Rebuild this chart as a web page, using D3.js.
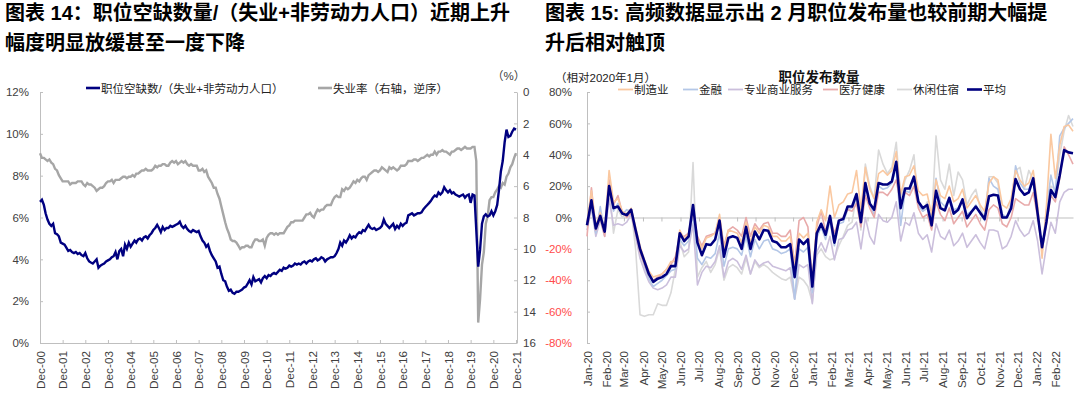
<!DOCTYPE html>
<html>
<head>
<meta charset="utf-8">
<script src="https://cdn.jsdelivr.net/npm/d3@7"></script>
<style>
  body { margin: 0; background: #fff; }
  svg text { font-family: "Liberation Sans", "Noto Sans CJK SC", sans-serif; }
</style>
</head>
<body>
<svg id="chart" width="1080" height="398"></svg>
<script>
// ---------- 图表14: monthly, Dec-2000 .. Dec-2021 ----------
const vacancyStart = new Date(2000, 11, 1);
const vacancyEnd = new Date(2021, 11, 1);

// job openings / (unemployed + not in labour force), %
const vacancyRatio = [
  6.75,
  6.85, 6.6, 6.2, 5.9, 5.7, 5.6, 5.7, 5.25, 5.2, 5.1, 4.8, 4.75,
  4.7, 4.55, 4.4, 4.45, 4.35, 4.3, 4.35, 4.25, 4.3, 4.2, 4.15, 4.3,
  4.05, 3.9, 3.85, 3.8, 3.9, 4.0, 3.6, 3.7, 3.75, 3.8, 3.9, 3.95,
  4.0, 4.1, 4.15, 4.35, 4.0, 4.4, 4.5, 4.15, 4.7, 4.5, 4.8, 4.6,
  4.75, 4.9, 4.8, 4.95, 5.0, 4.9, 5.05, 5.1, 5.0, 5.15, 5.25, 5.4,
  5.5, 5.65, 5.5, 5.3, 5.55, 5.4, 5.5, 5.5, 5.6, 5.55, 5.6, 5.65,
  5.7, 5.8, 5.6, 5.5, 5.6, 5.45, 5.35, 5.3, 5.4, 5.35, 5.3, 5.35,
  5.1, 4.9, 4.8, 4.6, 4.7, 4.4, 4.2, 4.05, 3.9, 3.6, 3.65, 3.3,
  3.0, 2.95, 2.7, 2.5, 2.55, 2.4, 2.35, 2.45, 2.45, 2.5, 2.55, 2.65,
  2.7, 2.85, 3.0, 2.8, 3.15, 2.95, 3.0, 3.05, 2.9, 3.1, 3.2, 3.1,
  3.25, 3.2, 3.3, 3.35, 3.3, 3.4, 3.5, 3.45, 3.6, 3.55, 3.6, 3.7,
  3.65, 3.7, 3.8, 3.75, 3.8, 3.75, 3.85, 3.9, 3.8, 3.9, 3.95, 3.9,
  4.0, 4.05, 3.95, 4.0, 4.1, 4.05, 3.9, 4.0, 4.05, 4.1, 4.1, 4.15,
  4.3, 4.5, 4.8, 4.65, 4.9, 4.8, 4.95, 5.15, 5.0, 5.1, 5.05, 5.2,
  5.3, 5.25, 5.4, 5.35, 5.5, 5.65, 5.5, 5.45, 5.5, 5.4, 5.45, 5.5,
  5.6, 5.9, 5.7, 5.6, 5.5, 5.6, 5.7, 5.45, 5.6, 5.5, 5.7, 5.6,
  5.7, 5.75, 6.1, 6.15, 6.2, 6.1, 6.15, 6.2, 6.2, 6.25, 6.4, 6.5,
  6.6, 6.7, 6.8, 6.95, 7.05, 7.0, 7.2, 7.1, 7.2, 7.45, 7.3, 7.2,
  7.3, 7.15, 7.2, 7.1, 7.05, 7.0, 7.05, 7.1, 6.95, 7.05, 7.1, 6.7,
  7.1, 7.05, 5.4, 3.65, 4.45, 5.7, 6.05, 6.15, 6.05, 6.1, 6.3, 6.1,
  6.3, 6.6, 7.3, 8.2, 8.7, 9.6, 10.2, 9.85, 9.9, 10.1, 10.25, 10.2
];

// unemployment rate, % (right axis, reversed)
const unemploymentRate = [
  3.9,
  4.2, 4.2, 4.3, 4.4, 4.3, 4.5, 4.6, 4.9, 5.0, 5.3, 5.5, 5.7,
  5.7, 5.7, 5.7, 5.9, 5.8, 5.8, 5.8, 5.7, 5.7, 5.7, 5.9, 6.0,
  5.8, 5.9, 5.9, 6.0, 6.1, 6.3, 6.2, 6.1, 6.1, 6.0, 5.8, 5.7,
  5.7, 5.6, 5.8, 5.6, 5.6, 5.6, 5.5, 5.4, 5.4, 5.5, 5.4, 5.4,
  5.3, 5.4, 5.2, 5.2, 5.1, 5.0, 5.0, 4.9, 5.0, 5.0, 5.0, 4.9,
  4.7, 4.8, 4.7, 4.7, 4.6, 4.6, 4.7, 4.7, 4.5, 4.4, 4.5, 4.4,
  4.6, 4.5, 4.4, 4.5, 4.4, 4.6, 4.7, 4.6, 4.7, 4.7, 4.7, 5.0,
  5.0, 4.9, 5.1, 5.0, 5.4, 5.6, 5.8, 6.1, 6.1, 6.5, 6.8, 7.3,
  7.8, 8.3, 8.7, 9.0, 9.4, 9.5, 9.5, 9.6, 9.8, 10.0, 9.9, 9.9,
  9.8, 9.8, 9.9, 9.9, 9.6, 9.4, 9.4, 9.5, 9.5, 9.4, 9.8, 9.3,
  9.1, 9.0, 9.0, 9.1, 9.0, 9.1, 9.0, 9.0, 9.0, 8.8, 8.6, 8.5,
  8.3, 8.3, 8.2, 8.2, 8.2, 8.2, 8.2, 8.0, 7.8, 7.8, 7.7, 7.9,
  8.0, 7.7, 7.5, 7.6, 7.5, 7.5, 7.3, 7.2, 7.2, 7.2, 6.9, 6.7,
  6.6, 6.7, 6.7, 6.2, 6.3, 6.1, 6.2, 6.1, 5.9, 5.7, 5.8, 5.6,
  5.7, 5.5, 5.4, 5.4, 5.6, 5.3, 5.2, 5.1, 5.0, 5.0, 5.1, 5.0,
  4.8, 4.9, 5.0, 5.1, 4.8, 4.9, 4.8, 4.9, 5.0, 4.9, 4.7, 4.7,
  4.7, 4.6, 4.4, 4.4, 4.4, 4.3, 4.3, 4.4, 4.3, 4.2, 4.2, 4.1,
  4.0, 4.1, 4.0, 4.0, 3.8, 4.0, 3.8, 3.8, 3.7, 3.8, 3.8, 3.9,
  4.0, 3.8, 3.8, 3.7, 3.6, 3.6, 3.7, 3.6, 3.5, 3.6, 3.6, 3.6,
  3.5, 3.5, 4.4, 14.7, 13.2, 11.0, 10.2, 8.4, 7.9, 6.9, 6.7, 6.7,
  6.4, 6.2, 6.0, 6.1, 5.8, 5.9, 5.4, 5.2, 4.8, 4.6, 4.2, 3.9
];

const vacancyTicks = [0, 2, 4, 6, 8, 10, 12];
const unrateTicks = [0, 2, 4, 6, 8, 10, 12, 14, 16];
const vacancyLabelYears = d3.range(2000, 2022);   // Dec-00 .. Dec-21

// ---------- 图表15: weekly job postings vs Jan-2020, % ----------
const postingStart = new Date(2020, 0, 1);
const postingEnd = new Date(2022, 2, 1);

const manufacturing = [
  -3, 17, -5, 3, -8, 30, 10, 12, 4, 2,
  6, -6, -18, -27, -34, -38, -37, -36, -33, -28,
  -28, -8, -14, -10, 6, -13, -20, -13, -12, -10,
  2, -20, -8, -9, -10, -16, -3, -16, -6, -10,
  -5, -6, -12, -12, -15, -15, -12, -30, -10, -13,
  -10, -42, -3, 5, -2, 20, 0, 8, 10, 15,
  16, 30, 5, 32, 18, 12, 28, 30, 27, 30,
  42, 15, 26, 27, 33, 17, 14, 15, 2, 24,
  14, 12, 20, 10, 12, 18, 6, 10, 14, 8,
  4, 22, 26, 24, 8, 6, 12, 30, 24, 20,
  22, 30, 8, -26, 8, 53, 25, 46, 58, 59, 55
];
const finance = [
  -4, 8, -10, 7, -10, 22, 4, 9, 2, 5,
  4, -9, -22, -31, -39, -44, -42, -40, -37, -34,
  -33, -14, -18, -15, 2, -26, -30, -25, -26, -23,
  -10, -31, -20, -19, -20, -24, -12, -25, -14, -20,
  -15, -14, -20, -21, -23, -22, -20, -52, -20, -22,
  -19, -48, -13, -6, -14, -2, -18, -4, -3, 5,
  6, 13, -5, 20, 8, 2, 20, 18, 19, 22,
  32, -5, 17, 16, 25, 8, 4, 6, -4, 25,
  10, 7, 13, 5, 6, 12, 2, 4, 8, 2,
  -2, 25, 20, 18, 2, 0, 6, 33, 22, 18,
  18, 26, 4, -22, 5, 27, 15, 52, 57, 60, 63
];
const professional = [
  -8, 6, -12, -2, -12, 12, -5, -4, -5, -3,
  2, -12, -26, -34, -41, -45, -46, -45, -43, -38,
  -38, -18, -22, -20, -4, -43, -35, -31, -32, -28,
  -18, -38, -28, -26, -28, -33, -24, -36, -27, -31,
  -29, -28, -31, -32, -33, -34, -32, -52, -30, -32,
  -30, -55, -22, -16, -22, -12, -27, -14, -13, -8,
  -7, -3, -20, 0, -12, -17, 2, -2, -3, 0,
  10, -15, -3, -5, 3, -10, -14, -11, -22, -4,
  -12, -14, -8, -18, -15, -10, -19, -15, -11, -16,
  -20, -8, -8, -9, -20, -18, -12, -2, -8, -12,
  -10, -2, -15, -36, -18, -3, -10, 10, 16, 18, 18
];
const healthcare = [
  -12, 19, -8, 0, -12, 24, 8, 14, 3, 0,
  3, -10, -22, -30, -37, -40, -38, -36, -33, -30,
  -25, -12, -12, -10, 4, -12, -18, -12, -11, -10,
  0, -18, -8, -6, -8, -12, 0, -12, -4, -8,
  -4, -3, -10, -10, -12, -12, -8, -30, -2, 0,
  -6, -40, -6, 4, -9, 0, -10, -2, 0, 5,
  4, 9, -6, 14, 6, 0, 16, 16, 14, 18,
  24, 8, 16, 14, 20, 6, 0, 2, -8, 10,
  2, -2, 6, -4, 0, 4, -6, -2, 2, -4,
  -8, 5, 8, 6, -4, -6, 0, 12, 10, 8,
  8, 16, 0, -20, -4, 14, 10, 25, 45, 40, 34
];
const leisure = [
  -6, 8, -10, 2, -10, 20, -10, 5, 0, 3,
  5, -20, -62, -63, -62, -62, -55, -56, -56, -48,
  -33, -15, -25, -22, 35, -38, -32, -28, -35, -30,
  -20, -40, -32, -30, -32, -36, -26, -36, -28, -32,
  -30, -32, -35, -37, -39, -40, -38, -52, -38, -40,
  -44, -54, -24, -20, -25, -27, -26, -18, -12, -5,
  -3, 15, -8, 34, 20, 12, 43, 34, 28, 32,
  48, 12, 24, 30, 40, 8, 4, 10, -2, 52,
  24, 18, 34, 14, 29, 24, 8, 14, 18, 6,
  0, 26, 26, 22, 2, 0, 10, 30, 32, 18,
  30, 24, 6, -22, -2, 20, 18, 40, 55, 65, 58
];
const average = [
  -5, 11, -7, 1, -9, 20, 6, 7, 2.5, 1.5,
  5, -8, -20, -28, -36, -41, -39, -38, -36, -31,
  -31, -10, -15, -12, 8, -16, -24, -17, -17.5, -14,
  -2, -25, -13, -12, -13, -20, -6, -20, -9, -14,
  -8, -8.5, -15, -16, -19, -19, -17, -38, -14, -17,
  -14, -44, -10, -4, -11, 1, -16, -2, -1, 7,
  7, 15, -3, 22, 9, 5, 22, 21, 21, 23,
  35.5, 6, 18.5, 18.5, 26, 10, 6, 8, -5, 17,
  6, 4.5, 12.5, 2.5, 5, 11.5, -0.5, 3.5, 7, 3,
  -1, 13.5, 14.5, 14, 0, 0, 6, 24.5, 18, 14.5,
  16, 25, 2.5, -19, -2.5, 17.5, 13, 27, 43, 41.5, 41
];

const postingNames = ['制造业', '金融', '专业商业服务', '医疗健康', '休闲住宿', '平均'];
const postingTicks = [-80, -60, -40, -20, 0, 20, 40, 60, 80];

// ---------- drawing ----------
const svg = d3.select('#chart');
const axisGrey = '#bfbfbf';
const labelGrey = '#404040';

function styleAxis(g) {
  g.selectAll('.domain, .tick line').attr('stroke', axisGrey);
  g.selectAll('text').attr('fill', labelGrey).attr('font-size', 11.5);
}
function rotateLabels(g, size) {
  g.selectAll('text')
   .attr('transform', 'rotate(-90)')
   .attr('x', -8).attr('y', 0).attr('dy', '0.35em')
   .attr('text-anchor', 'end')
   .attr('font-size', size);
}

// titles
const titles = svg.append('g').attr('font-size', 20).attr('font-weight', 'bold').attr('fill', '#000');
titles.append('text').attr('x', 5).attr('y', 20).text('图表 14：职位空缺数量/（失业+非劳动力人口）近期上升');
titles.append('text').attr('x', 5).attr('y', 50).text('幅度明显放缓甚至一度下降');
titles.append('text').attr('x', 545).attr('y', 20).text('图表 15: 高频数据显示出 2 月职位发布量也较前期大幅提');
titles.append('text').attr('x', 545).attr('y', 50).text('升后相对触顶');

// ---- left chart ----
const months = d3.timeMonth.range(vacancyStart, d3.timeMonth.offset(vacancyEnd, 1));
const xL = d3.scaleTime().domain([vacancyStart, vacancyEnd]).range([40, 516]);
const yL = d3.scaleLinear().domain([0, 12]).range([343, 92]);
const yR = d3.scaleLinear().domain([0, 16]).range([92, 343]);

svg.append('g')
   .attr('transform', 'translate(40,0)')
   .call(d3.axisLeft(yL).tickValues(vacancyTicks).tickFormat(d => d + '%')
           .tickSizeInner(-3).tickSizeOuter(0).tickPadding(11))
   .call(styleAxis);

svg.append('g')
   .attr('transform', 'translate(517,0)')
   .call(d3.axisRight(yR).tickValues(unrateTicks)
           .tickSizeInner(-3).tickSizeOuter(0).tickPadding(6))
   .call(styleAxis);

svg.append('g')
   .attr('transform', 'translate(0,343)')
   .call(d3.axisBottom(xL)
           .tickValues(vacancyLabelYears.map(y => new Date(y, 11, 1)))
           .tickFormat(d3.timeFormat('%b-%y'))
           .tickSizeInner(-3).tickSizeOuter(0))
   .call(styleAxis)
   .call(g => rotateLabels(g, 11.8));

svg.append('path')
   .datum(unemploymentRate)
   .attr('fill', 'none').attr('stroke', '#a6a6a6').attr('stroke-width', 2.4)
   .attr('d', d3.line().x((d, i) => xL(months[i])).y(d => yR(d)));

svg.append('path')
   .datum(vacancyRatio)
   .attr('fill', 'none').attr('stroke', '#000080').attr('stroke-width', 2.4)
   .attr('d', d3.line().x((d, i) => xL(months[i])).y(d => yL(d)));

svg.append('text').attr('x', 492).attr('y', 80).attr('font-size', 11.5).attr('fill', labelGrey).text('（%）');

const legL = svg.append('g').attr('font-size', 11.5).attr('fill', '#222');
legL.append('line').attr('x1', 86).attr('x2', 100).attr('y1', 88).attr('y2', 88).attr('stroke', '#000080').attr('stroke-width', 2.6);
legL.append('text').attr('x', 101).attr('y', 92.5).text('职位空缺数/（失业+非劳动力人口）');
legL.append('line').attr('x1', 318).attr('x2', 332).attr('y1', 88).attr('y2', 88).attr('stroke', '#a6a6a6').attr('stroke-width', 2.6);
legL.append('text').attr('x', 333).attr('y', 92.5).text('失业率（右轴，逆序）');

// ---- right chart ----
const series = [manufacturing, finance, professional, healthcare, leisure, average];
const colors = ['#fac8a0', '#b4c7e7', '#cbbfdc', '#e8aaaa', '#d9d9d9', '#000080'];
const xP = d3.scalePoint().domain(d3.range(average.length)).range([587, 1073]);
const xM = d3.scaleTime().domain([postingStart, postingEnd]).range([587, 1073]);
const yP = d3.scaleLinear().domain([-80, 80]).range([343, 92]);
const monthTicks = d3.timeMonth.range(postingStart, postingEnd);

svg.append('g')
   .attr('transform', 'translate(587,0)')
   .call(d3.axisLeft(yP).tickValues(postingTicks).tickFormat(d => d + '%')
           .tickSizeInner(-3).tickSizeOuter(0).tickPadding(15))
   .call(styleAxis)
   .call(g => g.selectAll('text').filter(d => d < 0).attr('fill', '#ff4b4b'));

// zero line with ticks
svg.append('g')
   .attr('transform', `translate(0,${yP(0)})`)
   .call(d3.axisBottom(xM).tickValues(monthTicks).tickFormat('')
           .tickSizeInner(4).tickSizeOuter(0))
   .call(styleAxis);

// month labels along the bottom
svg.append('g')
   .attr('transform', 'translate(0,343)')
   .call(d3.axisBottom(xM).tickValues(monthTicks).tickFormat(d3.timeFormat('%b-%y')).tickSize(0))
   .call(g => g.select('.domain').remove())
   .call(styleAxis)
   .call(g => rotateLabels(g, 11.5));

const lineP = d3.line().x((d, i) => xP(i)).y(d => yP(d));
[4, 2, 1, 3, 0, 5].forEach(k => {
  svg.append('path')
     .datum(series[k])
     .attr('fill', 'none')
     .attr('stroke', colors[k])
     .attr('stroke-width', k === 5 ? 2.6 : 1.6)
     .attr('stroke-linejoin', 'round')
     .attr('d', lineP);
});

svg.append('text').attr('x', 555).attr('y', 82).attr('font-size', 11.5).attr('fill', '#222').text('（相对2020年1月）');
svg.append('text').attr('x', 819).attr('y', 82).attr('text-anchor', 'middle')
   .attr('font-size', 13.5).attr('font-weight', 'bold').attr('fill', '#111').text('职位发布数量');

const legX = [618, 683, 728, 823, 897, 967];
const legR = svg.append('g').attr('font-size', 11.5).attr('fill', '#222');
postingNames.forEach((name, k) => {
  legR.append('line')
      .attr('x1', legX[k]).attr('x2', legX[k] + 15).attr('y1', 89.5).attr('y2', 89.5)
      .attr('stroke', colors[k]).attr('stroke-width', k === 5 ? 2.6 : 1.8);
  legR.append('text').attr('x', legX[k] + 16).attr('y', 94).text(name);
});
</script>
</body>
</html>
